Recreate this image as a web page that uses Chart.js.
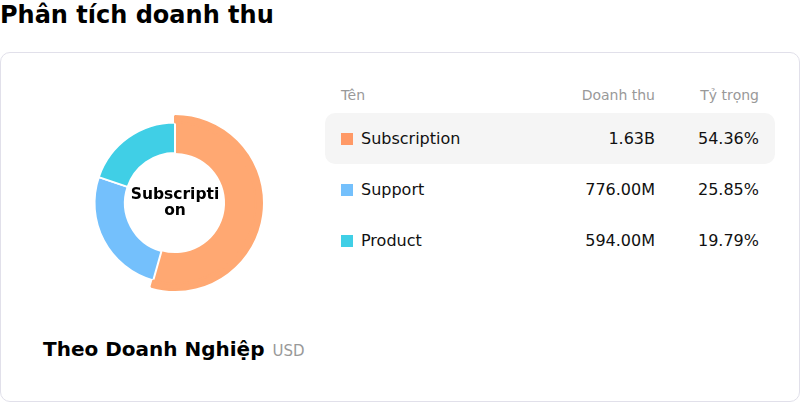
<!DOCTYPE html>
<html>
<head>
<meta charset="utf-8">
<script src="https://cdn.jsdelivr.net/npm/chart.js@4.4.1/dist/chart.umd.min.js"></script>
<style>
  body { margin: 0; width: 800px; height: 402px; background: #fff; font-family: "DejaVu Sans", sans-serif; position: relative; overflow: hidden; }
  h1 { position: absolute; left: 0; top: 0; margin: 0; font-size: 24px; line-height: 31px; font-weight: bold; color: #000; }
  .card { position: absolute; left: 0; top: 52px; width: 798px; height: 348px; border: 1px solid #e1e0ea; border-radius: 10px; }
  #wrap { position: absolute; left: 75px; top: 103px; width: 200px; height: 200px; }
  #center { position: absolute; left: 129px; top: 186px; width: 92px; text-align: center; font-weight: bold; font-size: 15.5px; line-height: 16px; word-break: break-all; color: #000; }
  .foot { position: absolute; left: 43px; top: 337px; font-size: 20px; font-weight: bold; color: #000; }
  .foot span { font-size: 15px; font-weight: normal; color: #999; margin-left: 8px; }
  table { position: absolute; left: 325px; top: 80px; width: 450px; border-collapse: collapse; }
  th { font-weight: normal; font-size: 14px; color: #999; height: 30px; padding: 0 16px 3px 16px; }
  td { font-size: 16px; color: #111; height: 51px; padding: 0 16px; }
  th:first-child, td:first-child { text-align: left; }
  th.r, td.r { text-align: right; }
  tr.active td { background: #f5f5f5; }
  tr.active td:first-child { border-radius: 10px 0 0 10px; }
  tr.active td:last-child { border-radius: 0 10px 10px 0; }
  .sq { display: inline-block; width: 12px; height: 12px; margin-right: 8px; vertical-align: -1px; }
</style>
</head>
<body>
<h1>Phân tích doanh thu</h1>
<div class="card"></div>
<div id="wrap"><canvas id="myChart" width="200" height="200"></canvas></div>
<div id="center"></div>
<div class="foot">Theo Doanh Nghiệp<span>USD</span></div>
<table id="tbl">
  <thead><tr><th style="width:170px">Tên</th><th class="r">Doanh thu</th><th class="r" style="width:72px">Tỷ trọng</th></tr></thead>
  <tbody></tbody>
</table>
<script>
const categories = ["Subscription", "Support", "Product"];
const revenue = [1632, 776, 594]; // triệu USD
const revenueLabels = ["1.63B", "776.00M", "594.00M"];
const shares = ["54.36%", "25.85%", "19.79%"];
const colors = ["#ff9966", "#74c0fc", "#40cfe6"];
const activeColor = "#ffa872";
const activeIndex = 0;

const tbody = document.querySelector("#tbl tbody");
categories.forEach((name, i) => {
  const tr = document.createElement("tr");
  if (i === activeIndex) tr.className = "active";
  tr.innerHTML = `<td><span class="sq" style="background:${colors[i]}"></span>${name}</td>` +
    `<td class="r">${revenueLabels[i]}</td><td class="r">${shares[i]}</td>`;
  tbody.appendChild(tr);
});

document.getElementById("center").textContent = categories[activeIndex];

const arcColors = colors.map((c, i) => (i === activeIndex ? activeColor : c));

const divChart = document.getElementById("myChart");
const myChart = new Chart(divChart, {
  type: "doughnut",
  data: {
    labels: categories,
    datasets: [
      {
        // vành ngoài: chỉ phần đang chọn
        data: revenue,
        weight: 6.5,
        backgroundColor: arcColors.map((c, i) => (i === activeIndex ? c : "rgba(0,0,0,0)")),
        borderColor: arcColors.map((c, i) => (i === activeIndex ? c : "rgba(0,0,0,0)")),
        borderWidth: 2,
      },
      {
        data: revenue,
        weight: 30.5,
        backgroundColor: arcColors,
        borderColor: arcColors.map((c, i) => (i === activeIndex ? c : "#fff")),
        borderWidth: arcColors.map((c, i) => (i === activeIndex ? 0 : 2)),
      },
    ],
  },
  options: {
    responsive: false,
    animation: false,
    radius: 87,
    cutout: "57.5%",
    events: [],
    plugins: { legend: { display: false }, tooltip: { enabled: false } },
  },
});
</script>
</body>
</html>
